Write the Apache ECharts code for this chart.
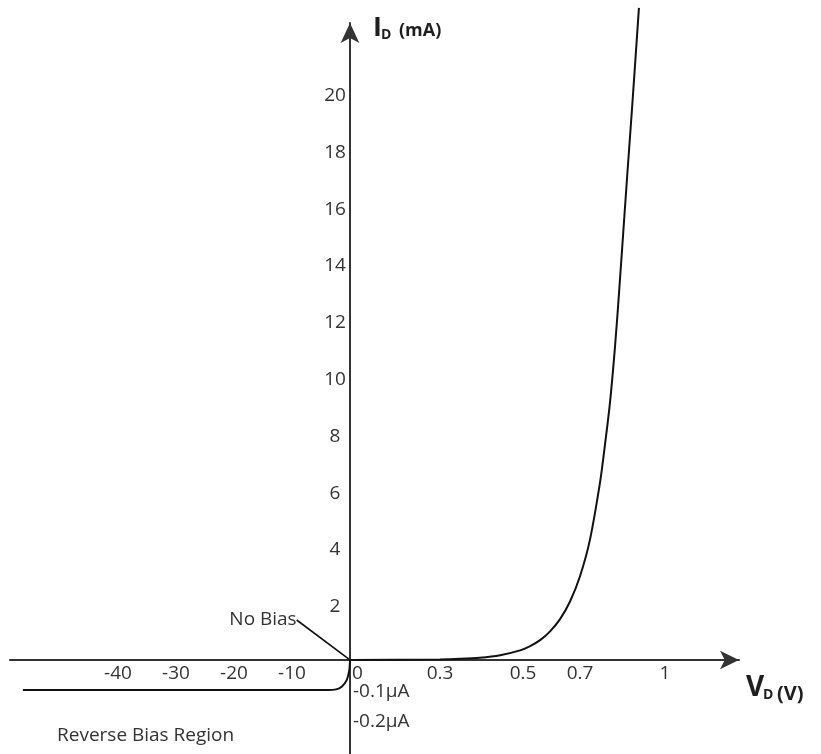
<!DOCTYPE html>
<html>
<head>
<meta charset="utf-8">
<script src="https://cdn.jsdelivr.net/npm/echarts@6/dist/echarts.min.js"></script>
<style>
    html, body { margin: 0; padding: 0; background: #fff; }
    #chart { width: 821px; height: 754px; }
</style>
</head>
<body>
<div id="chart"></div>
<script>
// tick labels
const xTicks = [-40, -30, -20, -10, 0, 0.3, 0.5, 0.7, 1];
const xTickLabels = ['-40', '-30', '-20', '-10', '0', '0.3', '0.5', '0.7', '1'];
const yTicks = [2, 4, 6, 8, 10, 12, 14, 16, 18, 20]; // mA
const yNegTicks = [-0.1, -0.2]; // µA
const yNegLabels = ['-0.1µA', '-0.2µA'];

// forward bias curve: V (volts) / I (mA)
const forwardV = [0, 0.3, 0.348, 0.396, 0.445, 0.493, 0.525, 0.56, 0.595, 0.63, 0.665, 0.7, 0.735, 0.771, 0.788, 0.806, 0.824, 0.838, 0.866, 0.884, 0.908];
const forwardI = [0, 0.02, 0.04, 0.08, 0.17, 0.34, 0.49, 0.70, 1.01, 1.44, 2.06, 2.95, 4.23, 6.27, 7.57, 9.08, 11.09, 12.96, 16.97, 19.47, 22.96];

// reverse bias curve: V (volts) / I (µA)
const reverseV = [-56.4, -3.8, -2.4, -1.43, -0.57, -0.12, 0];
const reverseI = [-0.1, -0.1, -0.098, -0.089, -0.067, -0.033, 0];

// the drawing uses a broken (schematic) scale: forward volts are stretched
// piecewise, reverse volts compressed, mA above the axis, µA below it
const fwdBreakV = [0, 0.3, 0.5, 0.7, 1];
const fwdBreakU = [0, 90, 173, 230, 315];
const revUnitPerVolt = 5.8;
const unitPerMA = 28.4;
const unitPerUA = 300;

function fx(v) {
    if (v <= 0) return v * revUnitPerVolt;
    let i = 1;
    while (i < fwdBreakV.length - 1 && v > fwdBreakV[i]) i++;
    const v0 = fwdBreakV[i - 1], v1 = fwdBreakV[i];
    const u0 = fwdBreakU[i - 1], u1 = fwdBreakU[i];
    return u0 + (v - v0) * (u1 - u0) / (v1 - v0);
}
const fyMA = (i) => i * unitPerMA;
const fyUA = (u) => u * unitPerUA;

const labelFont = { fontFamily: 'Open Sans', fontSize: 19, color: '#333' };
const titleFont = { fontFamily: 'Open Sans', fontWeight: 'bold', fill: '#1e1e1e', textVerticalAlign: 'middle' };

function findLabel(ticks, labels, fn, val) {
    const k = ticks.findIndex(t => Math.abs(fn(t) - val) < 0.01);
    return k < 0 ? '' : labels[k];
}

const X_MIN = -340, X_MAX = 389, Y_MIN = -94, Y_MAX = 637;

const chart = echarts.init(document.getElementById('chart'));
chart.setOption({
    animation: false,
    grid: { left: 10, right: 82, top: 23, bottom: 0, containLabel: false, outerBoundsMode: 'none' },
    xAxis: {
        type: 'value', min: X_MIN, max: X_MAX,
        position: 'bottom', offset: Y_MIN, // sits on I = 0
        axisLine: {
            onZero: false, symbol: ['none', 'arrow'], symbolSize: [14, 19],
            lineStyle: { color: '#333', width: 2 }
        },
        axisTick: { show: false },
        splitLine: { show: false },
        axisLabel: Object.assign({
            customValues: xTicks.map(fx),
            margin: 4,
            formatter: (val) => {
                const s = findLabel(xTicks, xTickLabels, fx, val);
                return s === '0' ? '{z|0}' : s;
            },
            rich: { z: Object.assign({ padding: [0, 0, 0, 15] }, labelFont) }
        }, labelFont)
    },
    yAxis: [{
        type: 'value', min: Y_MIN, max: Y_MAX,
        position: 'left', offset: X_MIN, // sits on V = 0
        axisLine: {
            onZero: false, symbol: ['none', 'arrow'], symbolSize: [14, 20],
            lineStyle: { color: '#333', width: 2 }
        },
        axisTick: { show: false },
        splitLine: { show: false },
        axisLabel: Object.assign({
            customValues: yTicks.map(fyMA),
            align: 'center',
            margin: 15,
            formatter: (val) => '{n|' + findLabel(yTicks, yTicks.map(String), fyMA, val) + '}',
            rich: { n: Object.assign({ padding: [7, 0, 0, 0] }, labelFont) }
        }, labelFont)
    }, {
        type: 'value', min: Y_MIN, max: Y_MAX,
        position: 'right', offset: -X_MAX,
        axisLine: { show: false, onZero: false },
        axisTick: { show: false },
        splitLine: { show: false },
        axisLabel: Object.assign({
            customValues: yNegTicks.map(fyUA),
            margin: 3,
            formatter: (val) => '{n|' + findLabel(yNegTicks, yNegLabels, fyUA, val) + '}',
            rich: { n: Object.assign({ padding: [3, 0, 0, 0] }, labelFont) }
        }, labelFont)
    }],
    series: [{
        type: 'line',
        data: forwardV.map((v, k) => [fx(v), fyMA(forwardI[k])]),
        showSymbol: false,
        smooth: 0.3,
        clip: false,
        lineStyle: { color: '#111', width: 2 }
    }, {
        type: 'line',
        data: reverseV.map((v, k) => [fx(v), fyUA(reverseI[k])]),
        showSymbol: false,
        smooth: 0.3,
        clip: false,
        lineStyle: { color: '#111', width: 2 }
    }, {
        // origin marker carrying the "No Bias" callout
        type: 'scatter',
        data: [[fx(0), fyMA(0)]],
        symbolSize: 1,
        itemStyle: { color: 'rgba(0,0,0,0)', opacity: 1 },
        silent: true,
        label: Object.assign({
            show: true, position: 'top', distance: 0, formatter: 'No Bias',
            textBorderWidth: 0
        }, labelFont),
        labelLayout: { dx: -87, dy: -30 },
        labelLine: { show: true, lineStyle: { color: '#111', width: 1.6 } }
    }],
    graphic: [
        { type: 'text', left: 57, top: 726, style: Object.assign({ text: 'Reverse Bias Region' }, labelFont, { fill: '#333' }) },
        { type: 'text', x: 373, y: 28, style: Object.assign({ text: 'I', fontSize: 27 }, titleFont) },
        { type: 'text', x: 381, y: 35, style: Object.assign({ text: 'D', fontSize: 14 }, titleFont) },
        { type: 'text', x: 399, y: 31, style: Object.assign({ text: '(mA)', fontSize: 18 }, titleFont) },
        { type: 'text', x: 746, y: 688, style: Object.assign({ text: 'V', fontSize: 28 }, titleFont) },
        { type: 'text', x: 763, y: 695, style: Object.assign({ text: 'D', fontSize: 14 }, titleFont) },
        { type: 'text', x: 777, y: 694, style: Object.assign({ text: '(V)', fontSize: 20 }, titleFont) }
    ]
});
</script>
</body>
</html>
